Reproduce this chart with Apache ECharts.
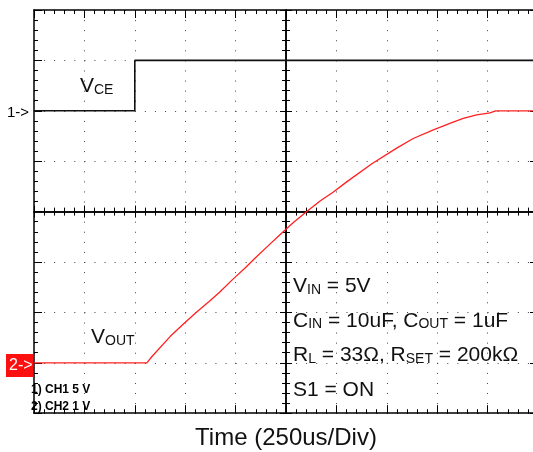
<!DOCTYPE html>
<html>
<head>
<meta charset="utf-8">
<script src="https://cdn.jsdelivr.net/npm/echarts/dist/echarts.min.js"></script>
<style>
  html, body { margin: 0; padding: 0; background: #fff; }
  #scope { position: relative; width: 533px; height: 452px; }
  #scope div.layer { position: absolute; left: 0; top: 0; width: 533px; height: 452px; }
</style>
</head>
<body>
<div id="scope">
  <div class="layer" id="dots"></div>
  <div class="layer" id="cross"></div>
  <div class="layer" id="frame"></div>
</div>
<script>
// time axis, us (250us/div, 10 div)
var timeMin = 0, timeMax = 2500, timeStep = 250;

// CH1 = VCE, 5V/div, ground marker 2 div above centre
var vceTime = [0, 500, 500, 2500];
var vceVolt = [0, 0, 5, 5];

// CH2 = VOUT, 1V/div, ground marker 3 div below centre
var voutTime = [0, 560, 584, 675, 741, 807, 873, 923, 987, 1047, 1105, 1161, 1220, 1285,
  1353, 1419, 1485, 1551, 1676, 1799, 1881, 1981, 2063, 2129, 2196, 2262, 2290, 2500];
var voutVolt = [0, 0, 0.12, 0.52, 0.77, 1.01, 1.23, 1.41, 1.66, 1.88, 2.11, 2.32, 2.54, 2.78,
  3.00, 3.21, 3.39, 3.59, 3.95, 4.26, 4.45, 4.62, 4.75, 4.85, 4.92, 4.96, 5.0, 5.0];

var notes = [
  ["V", "IN", " = 5V"],
  ["C", "IN", " = 10uF, C", "OUT", " = 1uF"],
  ["R", "L", " = 33Ω, R", "SET", " = 200kΩ"],
  ["S1 = ON"]
];

var FONT = "'Liberation Sans', Arial, Helvetica, sans-serif";
var L = 34, T = 10, W = 504, H = 403.2;
var box = { left: L, top: T, width: W, height: H, outerBoundsMode: "none" };
var tX = { min: timeMin, max: timeMax, interval: timeStep };

function pairs(xs, ys) {
  var out = [];
  for (var i = 0; i < xs.length; i++) out.push([xs[i], ys[i]]);
  return out;
}
function richLine(parts) {
  var s = "";
  parts.forEach(function (p, i) {
    s += "{" + (i % 2 ? "b" : "a") + "|" + p + "}";
  });
  return s;
}
var richSty = {
  a: { fontSize: 21, fontFamily: FONT, fill: "#111", verticalAlign: "bottom" },
  b: { fontSize: 14, fontFamily: FONT, fill: "#111", verticalAlign: "bottom" }
};

// axis with line + ticks only
function ax(extra, tickLen) {
  return Object.assign({
    type: "value",
    axisLabel: { show: false },
    axisLine: { show: true, onZero: false, lineStyle: { color: "#000", width: 1.5 } },
    axisTick: { show: true, inside: true, length: tickLen },
    minorTick: { show: true, splitNumber: 5, length: 4 },
    splitLine: { show: false }
  }, extra);
}
function dotAx(extra) {
  return Object.assign({
    type: "value",
    axisLabel: { show: false },
    axisLine: { show: false, onZero: false },
    axisTick: { show: false },
    splitLine: { show: true, lineStyle: { color: "#444", width: 1, type: [1, 9.08] } }
  }, extra);
}

// layer 1: dotted graticule and all texts
var dotsChart = echarts.init(document.getElementById("dots"));
var graphics = [
  { type: "text", style: { text: richLine(["V", "CE"]), rich: richSty, x: 80, y: 97, verticalAlign: "bottom" } },
  { type: "text", style: { text: richLine(["V", "OUT"]), rich: richSty, x: 91, y: 348, verticalAlign: "bottom" } },
  { type: "text", style: { text: "1->", x: 7, y: 113, fontSize: 15, fontFamily: FONT, fill: "#000", verticalAlign: "middle" } },
  { type: "rect", shape: { x: 6, y: 354, width: 27, height: 23 }, style: { fill: "#ff1010" } },
  { type: "text", style: { text: "2->", x: 9, y: 366, fontSize: 16, fontFamily: FONT, fill: "#fff", verticalAlign: "middle" } },
  { type: "text", style: { text: "1) CH1 5 V", x: 31, y: 390, fontSize: 12, fontWeight: "bold", fontFamily: FONT, fill: "#000", verticalAlign: "middle" } },
  { type: "text", style: { text: "2) CH2 1 V", x: 31, y: 407, fontSize: 12, fontWeight: "bold", fontFamily: FONT, fill: "#000", verticalAlign: "middle" } },
  { type: "text", style: { text: "Time (250us/Div)", x: 286, y: 438, fontSize: 24, fontFamily: FONT, fill: "#111", align: "center", verticalAlign: "middle" } }
];
notes.forEach(function (ln, i) {
  graphics.push({ type: "text", style: { text: richLine(ln), rich: richSty, x: 293, y: 297 + i * 34.6, verticalAlign: "bottom" } });
});
dotsChart.setOption({
  animation: false,
  grid: box,
  xAxis: dotAx(Object.assign({ position: "bottom" }, tX)),
  yAxis: dotAx({ min: -4, max: 4, interval: 1, position: "left" }),
  graphic: graphics
});

// layer 2: centre cross with ticks both ways
var crossChart = echarts.init(document.getElementById("cross"));
crossChart.setOption({
  animation: false,
  backgroundColor: "transparent",
  grid: box,
  xAxis: [
    ax(Object.assign({ position: "bottom", offset: -H / 2 }, tX), 6),
    ax(Object.assign({ position: "top", offset: -H / 2 }, tX), 6)
  ],
  yAxis: [
    ax({ min: -4, max: 4, interval: 1, position: "left", offset: -W / 2 }, 6),
    ax({ min: -4, max: 4, interval: 1, position: "right", offset: -W / 2 }, 6)
  ]
});

// layer 3: frame + the two traces
var myChart = echarts.init(document.getElementById("frame"));
myChart.setOption({
  animation: false,
  backgroundColor: "transparent",
  grid: box,
  xAxis: [
    ax(Object.assign({ position: "bottom" }, tX), 8),
    ax(Object.assign({ position: "top" }, tX), 8)
  ],
  yAxis: [
    ax({ min: -30, max: 10, interval: 5, position: "left" }, 8),
    ax({ min: -1, max: 7, interval: 1, position: "right" }, 8)
  ],
  series: [
    {
      type: "line", xAxisIndex: 0, yAxisIndex: 0,
      data: pairs(vceTime, vceVolt), showSymbol: false,
      lineStyle: { color: "#111", width: 1.6 }
    },
    {
      type: "line", xAxisIndex: 0, yAxisIndex: 1,
      data: pairs(voutTime, voutVolt), showSymbol: false,
      lineStyle: { color: "#ff2020", width: 1.3 }
    }
  ]
});

window.addEventListener("resize", function () {
  dotsChart.resize();
  crossChart.resize();
  myChart.resize();
});
</script>
</body>
</html>
